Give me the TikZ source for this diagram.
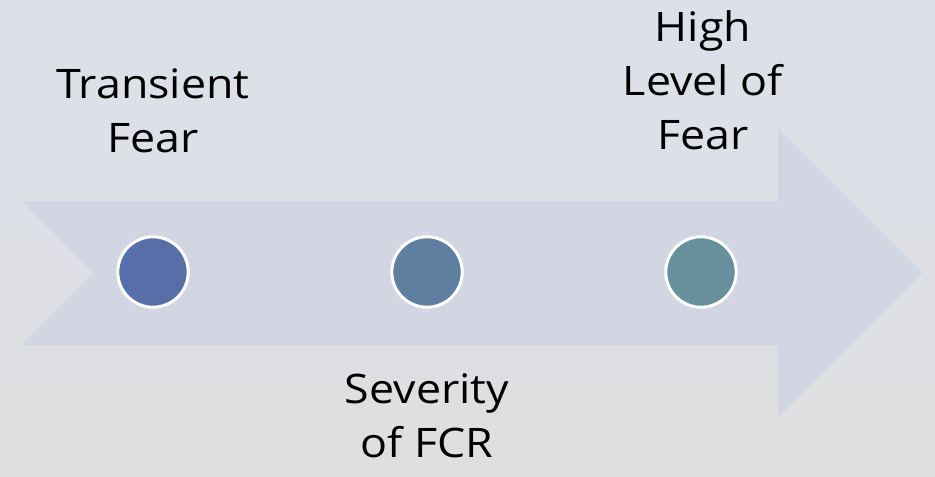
\documentclass[tikz,border=0pt]{standalone}
\usepackage{fontspec}
\setmainfont[FakeStretch=1.1]{Open Sans}
\usetikzlibrary{shapes.geometric}

\definecolor{bgtop}{HTML}{DCE0EB}
\definecolor{bgbot}{HTML}{DFDFDF}
\definecolor{band}{HTML}{D2D6E2}
\definecolor{dotA}{HTML}{576FA8}
\definecolor{dotB}{HTML}{5F7FA0}
\definecolor{dotC}{HTML}{67909C}

\tikzset{
  dot/.style={circle, draw=white, line width=2.25pt, minimum size=52.8pt, inner sep=0pt},
  label/.style={inner sep=0pt, align=center, anchor=base,
    font=\fontsize{30.5}{40.5}\selectfont}
}

\begin{document}
\begin{tikzpicture}[x=0.75pt, y=-0.75pt]

% Background with a soft vertical shading
\useasboundingbox (0,0) rectangle (935,476);
\shade [top color=bgtop, bottom color=bgbot] (0,0) rectangle (935,476);

% The big notched arrow
\fill [band] (22,201) -- (778,201) -- (778,129) -- (922,273)
  -- (778,417) -- (778,345) -- (22,345) -- (94,273) -- cycle;

% The three dots along the arrow
\foreach \n/\x/\c in {low/153/dotA, mid/427/dotB, high/701/dotC} {
  \node [dot, fill=\c] (\n) at (\x,272) {};
}

% Labels (anchored on the baseline of their last line)
\node [label] (transient) at (153,152) {Transient\\Fear};
\node [label] (severity) at (427,457) {Severity\\of FCR};
\node [label] (highfear) at (703,149) {High\\Level of\\Fear};

\end{tikzpicture}
\end{document}
